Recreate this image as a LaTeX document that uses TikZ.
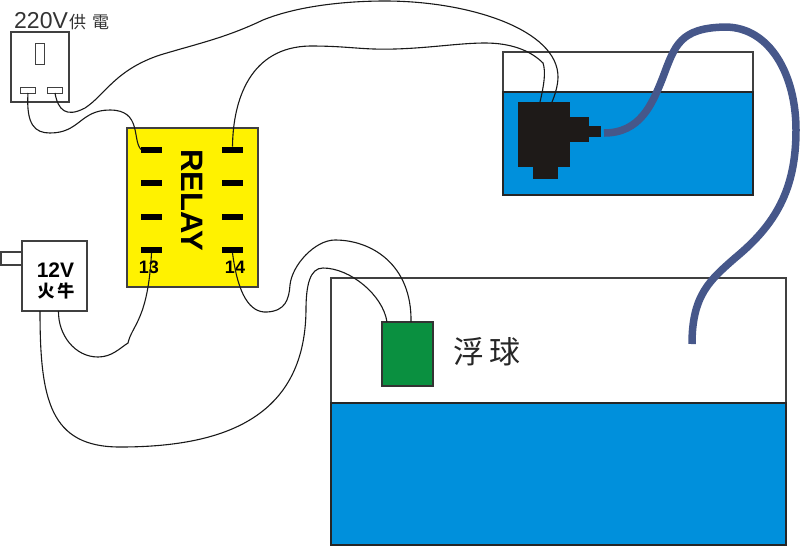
\documentclass[tikz,border=0pt]{standalone}
\usepackage{fontspec}
\setmainfont{Liberation Sans}
\newfontfamily\cjk{Noto Sans CJK TC}
\definecolor{water}{HTML}{0090DC}
\definecolor{relayyellow}{HTML}{FFF200}
\definecolor{floatgreen}{HTML}{0A9040}
\definecolor{hoseblue}{HTML}{46578A}
\definecolor{pumpblack}{HTML}{1E1A18}
\def\pumptank{(503,52) rectangle (753,195)}
\def\pumpwater{(503,92) rectangle (753,195)}
\def\bigtank{(331,278) rectangle (786,545)}
\def\bigwater{(331,403) rectangle (786,545)}
\tikzset{
  box/.style={draw=black!75,line width=1.3pt,fill=white,inner sep=0pt,outer sep=0pt},
  slot/.style={box,line width=1pt,minimum width=15pt,minimum height=6pt},
  pin/.style={fill=black,inner sep=0pt,outer sep=0pt,minimum width=21pt,minimum height=6pt},
  wire/.style={draw=black!90,line width=1.1pt},
}
\begin{document}
\begin{tikzpicture}[x=1pt,y=-1pt]
      \useasboundingbox (0,0) rectangle (800,547);
      % tanks
      \draw[black!75,line width=1.3pt] \pumptank;
      \fill[water] \pumpwater;
      \draw[black!85,line width=1.3pt] \pumpwater;
      \draw[black!75,line width=1.3pt] \bigtank;
      \fill[water] \bigwater;
      \draw[black!85,line width=1.3pt] \bigwater;
      % socket
      \node[box,minimum width=58pt,minimum height=70pt] (socket) at (40,67) {};
      \node[box,line width=1pt,minimum width=9pt,minimum height=21pt] (earth) at (40,53.5) {};
      \node[slot] (slotL) at (28,90) {};
      \node[slot] (slotR) at (55,90) {};
      \node[text=black!80,font=\fontsize{23}{23}\selectfont,anchor=west,inner sep=0pt] (mains) at (14,21) {220V};
      \node[text=black!80,font=\cjk\fontsize{17}{17}\selectfont,anchor=west,inner sep=0pt] (mainscn) at (69,22) {供\hspace{6pt}電};
      % relay
      \node[box,fill=relayyellow,minimum width=131pt,minimum height=159pt] (relay) at (192.5,207.5) {};
      \foreach \row/\ypos in {1/149.5,2/183,3/216.5,4/250} {
        \node[pin] (pinA\row) at (151.5,\ypos) {};
        \node[pin] (pinB\row) at (232.5,\ypos) {};
      }
      \node[rotate=-90,font=\bfseries\fontsize{31}{31}\selectfont,inner sep=0pt] (relayname) at (192.5,200.5) {RELAY};
      \node[font=\bfseries\fontsize{18}{18}\selectfont,inner sep=0pt] (numA) at (149,267) {13};
      \node[font=\bfseries\fontsize{18}{18}\selectfont,inner sep=0pt] (numB) at (235,267) {14};
      % adapter
      \node[box,minimum width=21pt,minimum height=13pt] (plug) at (11.5,258.5) {};
      \node[box,minimum width=65pt,minimum height=70pt] (adapter) at (54.5,276) {};
      \node[font=\bfseries\fontsize{21}{21}\selectfont,inner sep=0pt] (volt) at (55.5,270) {12V};
      \node[font=\cjk\bfseries\fontsize{17}{17}\selectfont,inner sep=0pt] (adaptercn) at (56,291) {火\hspace{3pt}牛};
      % float
      \node[draw=black!80,line width=1.3pt,fill=floatgreen,inner sep=0pt,outer sep=0pt,minimum width=51pt,minimum height=64pt] (float) at (407.5,354) {};
      \node[text=black!85,font=\cjk\fontsize{31}{31}\selectfont,inner sep=0pt] (floatcn) at (487,352) {浮\hspace{5pt}球};
      % pump
      \node[fill=pumpblack,inner sep=0pt,outer sep=0pt,minimum width=52pt,minimum height=65pt] (pump) at (544,134.5) {};
      \fill[pumpblack] (533,167) rectangle (558,179);
      \fill[pumpblack] (570,117) rectangle (589,142);
      \fill[pumpblack] (589,126) rectangle (601,137);
      % hose
      \coordinate (hoseA) at (604,133);
      \coordinate (hoseB) at (692,344);
      \draw[hoseblue,line width=7.5pt] (hoseA) .. controls (640,133) and (652,105) .. (663,77)
        .. controls (675,45) and (680,28) .. (725,27)
        .. controls (770,27) and (796,75) .. (796,130)
        .. controls (796,190) and (775,225) .. (735,258)
        .. controls (710,280) and (692,295) .. (hoseB);
      % wires
      \coordinate (adapterA) at (40,311);
      \coordinate (adapterB) at (58.5,311);
      \coordinate (floatA) at (387,322);
      \coordinate (floatB) at (411,322);
      \coordinate (pumpA) at (540,102);
      \coordinate (pumpB) at (552,102);
      \draw[wire] (slotL.south) .. controls (26,125) and (35,133) .. (50,133)
        .. controls (80,133) and (80,110) .. (110,110)
        .. controls (142,110) and (132,140) .. (pinA1.west);
      \draw[wire] (slotR.south) .. controls (58,110) and (66,118) .. (85,108)
        .. controls (105,95) and (115,70) .. (160,55)
        .. controls (200,43) and (225,38) .. (263,20)
        .. controls (300,5) and (350,1) .. (385,1)
        .. controls (470,1) and (558,30) .. (558,77)
        .. controls (558,85) and (555,95) .. (pumpB);
      \draw[wire] (pinB1.north) .. controls (233,100) and (250,47) .. (310,46)
        .. controls (350,46) and (360,50) .. (395,49)
        .. controls (430,48) and (460,43) .. (485,43)
        .. controls (510,43) and (530,50) .. (543,63)
        .. controls (546,72) and (544,85) .. (pumpA);
      \draw[wire] (adapterB) .. controls (58,335) and (75,357) .. (98,357)
        .. controls (112,357) and (120,348) .. (128,343)
        .. controls (132,325) and (148,320) .. (pinA4.south);
      \draw[wire] (adapterA) .. controls (40,400) and (50,447) .. (120,447)
        .. controls (220,447) and (305,420) .. (306,310)
        .. controls (306,285) and (310,268) .. (323,268)
        .. controls (350,268) and (383,295) .. (floatA);
      \draw[wire] (pinB4.south) .. controls (238,295) and (250,313) .. (267,312)
        .. controls (285,311) and (289,300) .. (290,285)
        .. controls (292,265) and (315,240) .. (335,240)
        .. controls (372,240) and (412,265) .. (floatB);
\end{tikzpicture}
\end{document}
